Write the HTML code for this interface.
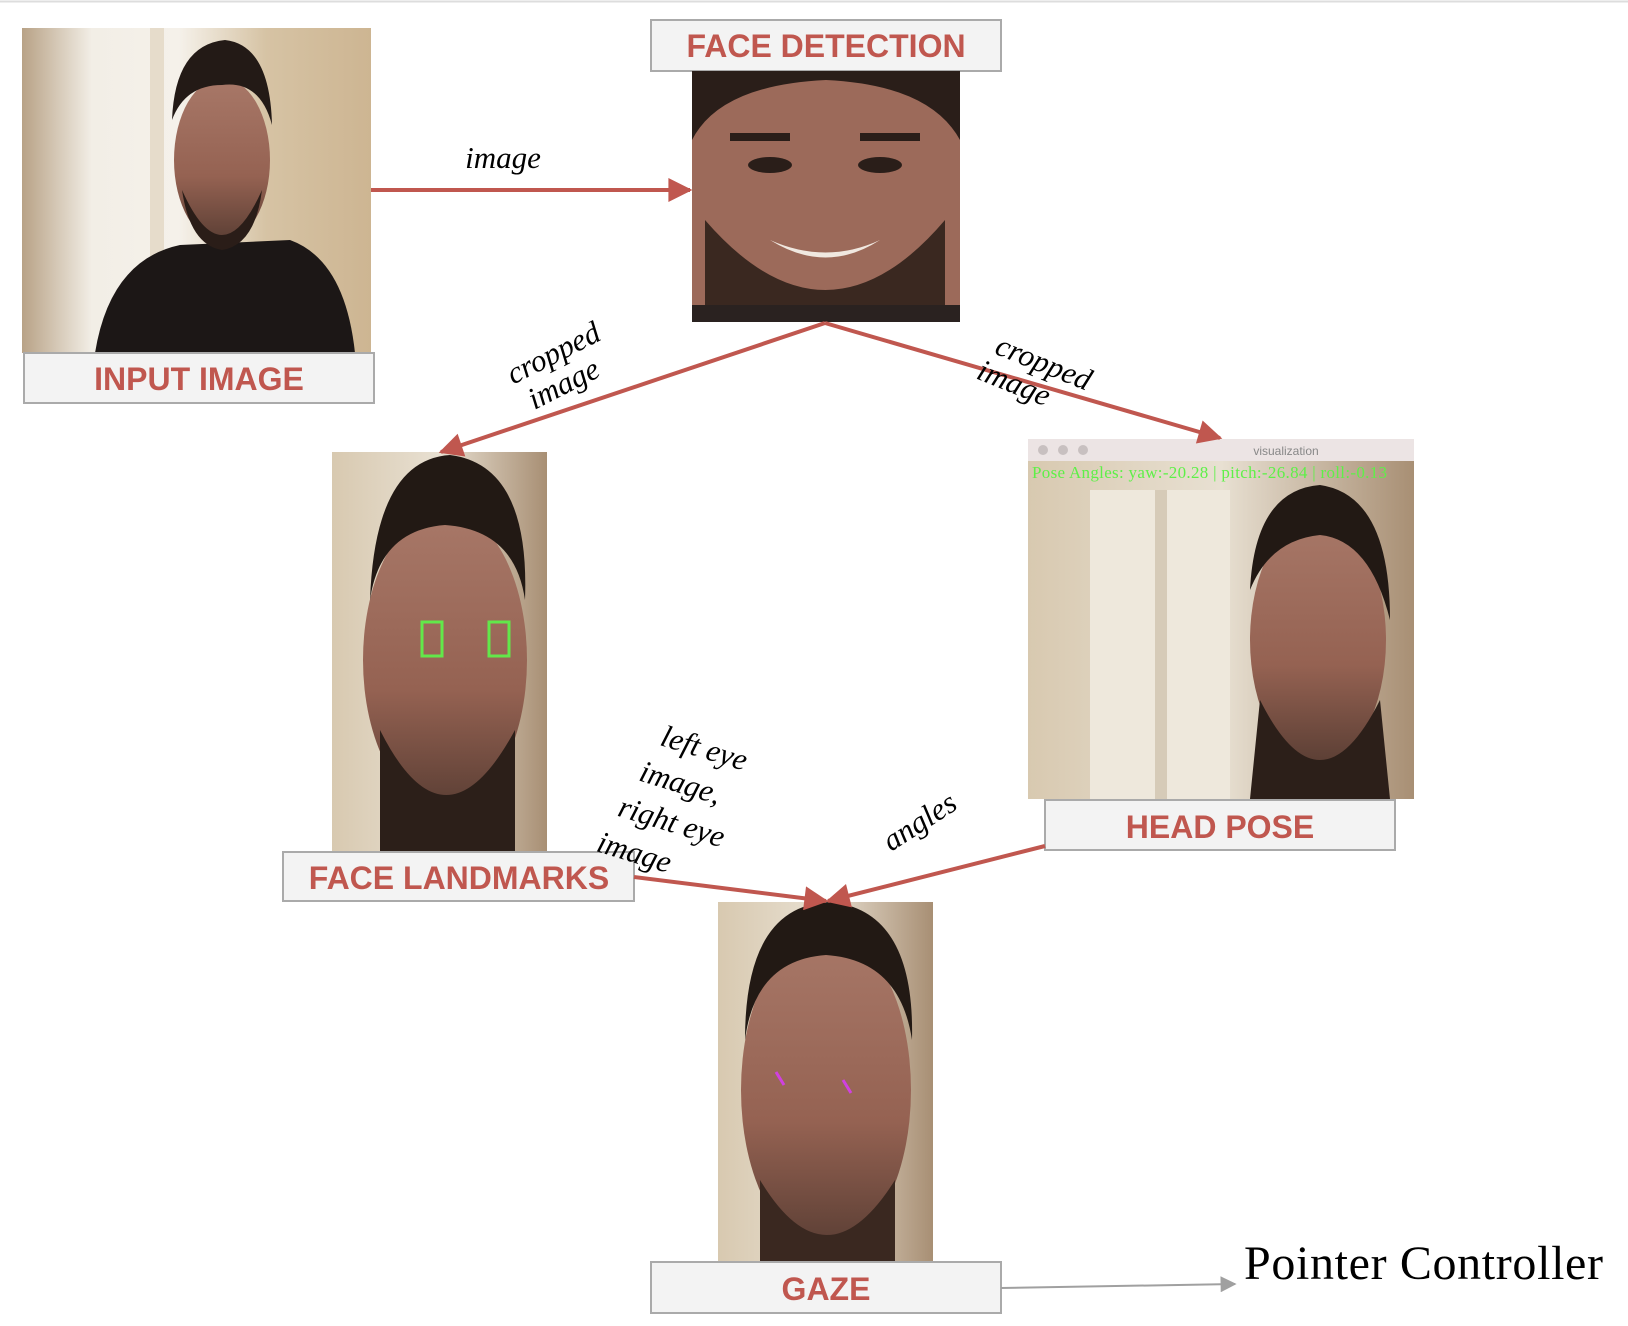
<!DOCTYPE html>
<html><head><meta charset="utf-8"><style>
html,body{margin:0;padding:0;background:#fff;}
svg{display:block}
.lbl{font-family:"Liberation Sans",sans-serif;font-weight:bold;fill:#c0574f;font-size:32px}
.it{font-family:"Liberation Serif",serif;font-style:italic;font-size:31px;fill:#000}
</style></head><body>
<svg width="1628" height="1326" viewBox="0 0 1628 1326" xmlns="http://www.w3.org/2000/svg">
<defs>
<linearGradient id="bg1" x1="0" y1="0" x2="1" y2="0"><stop offset="0" stop-color="#b8a286"/><stop offset="0.2" stop-color="#f2eee6"/><stop offset="0.45" stop-color="#f5f1ea"/><stop offset="0.7" stop-color="#d6c3a4"/><stop offset="1" stop-color="#cdb592"/></linearGradient>
<linearGradient id="bg2" x1="0" y1="0" x2="1" y2="0"><stop offset="0" stop-color="#d8c9b0"/><stop offset="0.5" stop-color="#e8e0d2"/><stop offset="1" stop-color="#a88f74"/></linearGradient>
<linearGradient id="skin" x1="0" y1="0" x2="0" y2="1"><stop offset="0" stop-color="#a87868"/><stop offset="0.6" stop-color="#956252"/><stop offset="1" stop-color="#5a3e34"/></linearGradient>
<marker id="ar" viewBox="0 0 10 10" refX="9" refY="5" markerWidth="8" markerHeight="6" orient="auto" markerUnits="strokeWidth"><path d="M0,0L10,5L0,10z" fill="#c0574f"/></marker>
<marker id="ag" viewBox="0 0 10 10" refX="9" refY="5" markerWidth="12" markerHeight="8" orient="auto" markerUnits="strokeWidth"><path d="M0,0L10,5L0,10z" fill="#a0a0a0"/></marker>
</defs>
<line x1="0" y1="1.5" x2="1628" y2="1.5" stroke="#ddd" stroke-width="2"/>

<!-- input image -->
<rect x="22" y="28" width="349" height="325" fill="url(#bg1)"/>
<rect x="150" y="28" width="14" height="325" fill="#e6dccb"/>
<path d="M95,353 Q110,260 180,245 L290,240 Q345,260 355,353 Z" fill="#1c1716"/>
<ellipse cx="222" cy="160" rx="48" ry="82" fill="url(#skin)"/>
<path d="M172,120 Q175,45 225,40 Q270,45 272,125 Q260,80 222,85 Q185,85 172,120Z" fill="#231a16"/>
<path d="M182,190 Q222,280 262,190 Q255,245 222,250 Q190,245 182,190Z" fill="#2a1d18"/>

<rect x="24" y="353" width="350" height="50" fill="#f3f3f3" stroke="#aaa" stroke-width="2"/>
<text x="199" y="390" text-anchor="middle" class="lbl">INPUT IMAGE</text>

<!-- face detection -->
<rect x="651" y="20" width="350" height="51" fill="#f3f3f3" stroke="#aaa" stroke-width="2"/>
<text x="826" y="57" text-anchor="middle" class="lbl">FACE DETECTION</text>
<rect x="692" y="71" width="268" height="251" fill="#9c6a5a"/>
<path d="M692,71 L960,71 L960,140 Q930,85 826,80 Q720,85 692,140Z" fill="#2a1e19"/>
<path d="M705,220 Q826,360 945,220 L945,322 L705,322Z" fill="#3a2820"/>
<path d="M770,240 Q826,265 880,240 Q826,275 770,240Z" fill="#f0e8e0"/>
<ellipse cx="770" cy="165" rx="22" ry="8" fill="#2a1e19"/><ellipse cx="880" cy="165" rx="22" ry="8" fill="#2a1e19"/>
<rect x="730" y="133" width="60" height="8" fill="#2a1e19"/><rect x="860" y="133" width="60" height="8" fill="#2a1e19"/>
<rect x="692" y="305" width="268" height="17" fill="#2a2220"/>

<!-- face landmarks -->
<rect x="332" y="452" width="215" height="399" fill="url(#bg2)"/>
<ellipse cx="445" cy="660" rx="82" ry="150" fill="url(#skin)"/>
<path d="M370,600 Q375,460 450,455 Q530,465 525,600 Q515,530 445,525 Q380,530 370,600Z" fill="#221914"/>
<path d="M380,730 Q445,860 515,730 L515,851 L380,851Z" fill="#2c1f19"/>
<rect x="422" y="622" width="20" height="34" fill="none" stroke="#62e84a" stroke-width="3"/>
<rect x="489" y="622" width="20" height="34" fill="none" stroke="#62e84a" stroke-width="3"/>
<rect x="283" y="852" width="351" height="49" fill="#f3f3f3" stroke="#aaa" stroke-width="2"/>
<text x="459" y="889" text-anchor="middle" class="lbl">FACE LANDMARKS</text>

<!-- head pose -->
<rect x="1028" y="439" width="386" height="360" fill="url(#bg2)"/>
<rect x="1028" y="439" width="386" height="22" fill="#ece4e4"/>
<circle cx="1043" cy="450" r="5" fill="#c8c0c0"/><circle cx="1063" cy="450" r="5" fill="#c8c0c0"/><circle cx="1083" cy="450" r="5" fill="#c8c0c0"/>
<text x="1286" y="455" text-anchor="middle" font-family="Liberation Sans,sans-serif" font-size="12" fill="#888">visualization</text>
<text x="1032" y="478" font-family="Liberation Serif,serif" font-size="17" fill="#5ef048" textLength="355">Pose Angles: yaw:-20.28 | pitch:-26.84 | roll:-0.13</text>
<rect x="1090" y="490" width="140" height="309" fill="#eee8dc"/>
<rect x="1155" y="490" width="12" height="309" fill="#d6cbb8"/>
<ellipse cx="1318" cy="640" rx="68" ry="125" fill="url(#skin)"/>
<path d="M1250,590 Q1255,490 1320,485 Q1390,495 1390,620 Q1370,540 1320,535 Q1270,540 1250,590Z" fill="#221914"/>
<path d="M1260,700 Q1320,820 1380,700 L1390,799 L1250,799Z" fill="#2c1f19"/>
<rect x="1045" y="800" width="350" height="50" fill="#f3f3f3" stroke="#aaa" stroke-width="2"/>
<text x="1220" y="838" text-anchor="middle" class="lbl">HEAD POSE</text>

<!-- gaze -->
<rect x="718" y="902" width="215" height="359" fill="url(#bg2)"/>
<ellipse cx="826" cy="1090" rx="85" ry="160" fill="url(#skin)"/>
<path d="M745,1040 Q745,905 830,902 Q915,910 912,1040 Q900,960 826,955 Q755,960 745,1040Z" fill="#221914"/>
<path d="M760,1180 Q826,1290 895,1180 L895,1261 L760,1261Z" fill="#3a2820"/>
<line x1="776" y1="1072" x2="784" y2="1085" stroke="#d040e0" stroke-width="3"/>
<line x1="843" y1="1080" x2="851" y2="1093" stroke="#d040e0" stroke-width="3"/>
<rect x="651" y="1262" width="350" height="51" fill="#f3f3f3" stroke="#aaa" stroke-width="2"/>
<text x="826" y="1300" text-anchor="middle" class="lbl">GAZE</text>

<!-- arrows -->
<g stroke="#c0574f" stroke-width="4" fill="none">
<line x1="371" y1="190" x2="690" y2="190" marker-end="url(#ar)"/>
<line x1="825" y1="323" x2="441" y2="452" marker-end="url(#ar)"/>
<line x1="825" y1="323" x2="1220" y2="438" marker-end="url(#ar)"/>
<line x1="634" y1="877" x2="826" y2="901" marker-end="url(#ar)"/>
<line x1="1045" y1="846" x2="828" y2="901" marker-end="url(#ar)"/>
</g>
<line x1="1001" y1="1288" x2="1235" y2="1284" stroke="#a0a0a0" stroke-width="2" marker-end="url(#ag)"/>

<!-- labels -->
<text x="503" y="168" text-anchor="middle" class="it">image</text>
<g transform="translate(558,362) rotate(-27)"><text x="0" y="0" text-anchor="middle" class="it">cropped</text><text x="-5" y="32" text-anchor="middle" class="it">image</text></g>
<g transform="translate(1040,372) rotate(22)"><text x="0" y="0" text-anchor="middle" class="it">cropped</text><text x="-20" y="30" text-anchor="middle" class="it">image</text></g>
<g transform="translate(702,758) rotate(17)">
<text x="-45" y="0" class="it">left eye</text>
<text x="-55" y="40" class="it">image,</text>
<text x="-65" y="80" class="it">right eye</text>
<text x="-75" y="120" class="it">image</text>
</g>
<g transform="translate(925,830) rotate(-33)"><text x="0" y="0" text-anchor="middle" class="it">angles</text></g>
<text x="1244" y="1279" font-family="Liberation Serif,serif" font-size="48" fill="#000" textLength="359">Pointer Controller</text>
</svg>
</body></html>
